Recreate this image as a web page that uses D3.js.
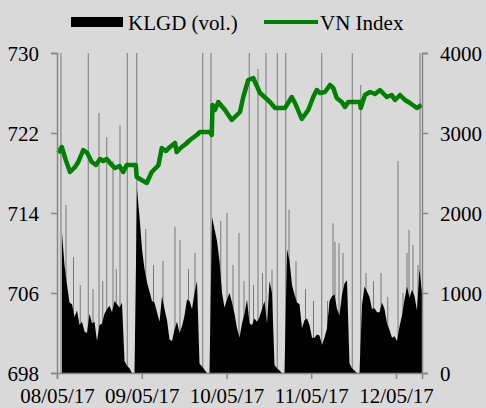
<!DOCTYPE html>
<html lang="en">

<head>
    <meta charset="UTF-8">
    <title>KLGD vs VN Index</title>
    <script src="https://d3js.org/d3.v7.min.js"></script>
    <style>
        body {
            margin: 0;
            background: #d9d9d9;
        }

        svg text {
            font: 21px "Liberation Serif", "Times New Roman", serif;
            fill: #000;
        }
    </style>
</head>

<body>
    <script>
        // x is a session slot index, 30 slots per trading day (25 trading + 5 after close)
        var dayStarts = [0, 30, 60, 90, 120];
        var tickSlots = [-2, 31.9, 65.8, 99.7, 133.6];
        var tickLabels = ["08/05/17", "09/05/17", "10/05/17", "11/05/17", "12/05/17"];
        var volTicks = [0, 1000, 2000, 3000, 4000];
        var idxTicks = [698, 706, 714, 722, 730];

        var volDay1 = [1750, 1350, 1100, 880, 860, 700, 780, 600, 640, 520, 500, 740, 620, 640, 400, 600, 620, 740, 800, 840, 760, 900, 860, 820, 880, 150, 90, 60, 0, 0];
        var volDay2 = [2300, 1950, 1550, 1300, 1130, 1020, 900, 880, 760, 640, 960, 800, 660, 420, 400, 540, 640, 500, 580, 720, 920, 900, 800, 1000, 1150, 120, 80, 40, 0, 0];
        var volDay3 = [1950, 1800, 1650, 1400, 1000, 820, 920, 1000, 880, 740, 560, 440, 620, 740, 920, 620, 600, 680, 640, 700, 800, 900, 620, 1150, 1000, 100, 60, 30, 0, 0];
        var volDay4 = [1550, 1400, 1100, 980, 880, 860, 560, 660, 680, 600, 440, 440, 480, 470, 350, 440, 560, 900, 960, 980, 800, 720, 980, 1120, 1160, 120, 60, 30, 0, 0];
        var volDay5 = [850, 1080, 1020, 950, 800, 810, 760, 760, 880, 800, 620, 540, 440, 460, 400, 580, 720, 920, 1080, 940, 1040, 960, 780, 1300, 1000];

        // single-minute volume spikes [slot, volume]
        var spikes = [[-0.4, 4500], [1.6, 2100], [4.6, 1450], [7.3, 1100], [10.5, 5000], [12.4, 1050], [14.8, 3250],
            [16.3, 1150], [17.9, 2950], [20.4, 2650], [21.7, 1300], [23.2, 3100],
            [26.1, 5000], [29.9, 5000], [33.5, 1800], [36.6, 1350], [40.4, 1400], [45.2, 1830], [47.2, 1660],
            [50.6, 1300], [53.2, 1500], [56.3, 5000], [59.6, 5000], [63.5, 1900],
            [66, 2000], [68.4, 1350], [70.8, 1750], [72.8, 1150], [74.9, 5000], [76.6, 1100], [78.4, 3800],
            [80.2, 1250], [81.6, 5000], [84, 1290], [86.1, 5000], [89.5, 5000], [90.8, 2040], [93.6, 1400],
            [97.4, 1050], [100.6, 900], [103.9, 5000], [106.2, 900], [108.4, 1870], [109.2, 1640],
            [110.8, 1620], [112.4, 1500], [116.1, 5000], [119.5, 3600], [121.6, 1250], [124.6, 1150],
            [127.6, 1250], [130.3, 950], [134.4, 2650], [136.4, 1000], [138, 1500], [138.8, 1790],
            [140.4, 1600], [142.4, 1350], [143.2, 5000]];

        var idxSlots = [-1.5, -0.1, 1.5, 3.2, 5.2, 6.5, 8.5, 10.1, 11.9, 13.6, 15.2, 16.5, 17.9, 19.9, 21.2, 23.0, 24.5, 25.9, 29.5,
            29.9, 31.8, 33.9, 35.9, 37.9, 38.6, 39.9, 41.5, 43.2, 45.2, 45.9, 47.9, 49.5, 51.2, 53.9, 55.2, 59.2,
            59.9, 60.2, 61.2, 62.5, 65.2, 67.9, 71.2, 72.5, 74.5, 76.5, 79.2, 81.0, 83.2, 85.2, 89.2,
            91.9, 93.2, 95.9, 98.5, 100.5, 101.9, 103.2, 105.2, 107.2, 108.5, 109.9, 111.9, 113.2, 114.5, 119.2,
            119.5, 121.2, 123.2, 125.2, 127.2, 129.9, 131.9, 133.2, 135.2, 137.2, 139.2, 141.9, 143.9];
        var idxValues = [720.0, 720.6, 719.3, 718.1, 718.6, 719.1, 720.3, 720.0, 719.1, 718.8, 719.4, 719.2, 719.4, 718.8, 718.5, 718.7, 718.1, 718.8, 718.8,
            717.6, 717.3, 717.0, 718.1, 718.6, 718.8, 720.5, 720.2, 720.6, 721.0, 720.1, 720.6, 720.9, 721.3, 721.8, 722.1, 722.1,
            721.8, 724.8, 724.3, 725.1, 724.3, 723.3, 724.1, 725.6, 727.3, 727.5, 726.0, 725.6, 725.1, 724.5, 724.5,
            725.6, 725.0, 723.4, 724.3, 725.6, 726.3, 726.0, 726.1, 726.8, 726.5, 725.5, 725.1, 724.6, 725.1, 725.1,
            724.5, 725.8, 726.1, 725.9, 726.3, 725.6, 725.8, 725.3, 725.8, 725.3, 725.0, 724.5, 724.8];

        var width = 486, height = 408;
        var plotL = 57, plotR = 422, plotT = 53, plotB = 373;

        var volume = [];
        [volDay1, volDay2, volDay3, volDay4, volDay5].forEach(function (arr, d) {
            arr.forEach(function (v, i) {
                volume.push({ slot: dayStarts[d] + i, v: v });
            });
        });
        var index = idxSlots.map(function (s, i) { return { slot: s, v: idxValues[i] }; });

        var x = d3.scaleLinear().domain([-2, 144]).range([plotL, plotR]);
        var yIdx = d3.scaleLinear().domain([698, 730]).range([plotB, plotT]);
        var yVol = d3.scaleLinear().domain([0, 4000]).range([plotB, plotT]);

        var svg = d3.select("body").append("svg")
            .attr("width", width)
            .attr("height", height);

        svg.append("clipPath").attr("id", "plot")
            .append("rect")
            .attr("x", plotL).attr("y", plotT)
            .attr("width", plotR - plotL).attr("height", plotB - plotT);

        var plot = svg.append("g").attr("clip-path", "url(#plot)");

        plot.append("path")
            .datum(volume)
            .attr("fill", "#000")
            .attr("d", d3.area()
                .x(function (d) { return x(d.slot); })
                .y0(plotB)
                .y1(function (d) { return yVol(d.v); }));

        plot.selectAll("line.spike")
            .data(spikes)
            .enter()
            .append("line")
            .attr("class", "spike")
            .attr("x1", function (d) { return x(d[0]); })
            .attr("x2", function (d) { return x(d[0]); })
            .attr("y1", plotB)
            .attr("y2", function (d) { return yVol(d[1]); })
            .attr("stroke", "#000")
            .attr("stroke-opacity", 0.45)
            .attr("stroke-width", 1);

        svg.append("path")
            .datum(index)
            .attr("fill", "none")
            .attr("stroke", "#008000")
            .attr("stroke-width", 4.5)
            .attr("stroke-linejoin", "round")
            .attr("d", d3.line()
                .x(function (d) { return x(d.slot); })
                .y(function (d) { return yIdx(d.v); }));

        // axes
        var axisColor = "#878787";
        var leftAxis = svg.append("g")
            .attr("transform", "translate(" + plotL + ",0)")
            .call(d3.axisLeft(yIdx).tickValues(idxTicks).tickSize(6).tickPadding(12));
        var rightAxis = svg.append("g")
            .attr("transform", "translate(" + plotR + ",0)")
            .call(d3.axisRight(yVol).tickValues(volTicks).tickSize(6).tickPadding(12)
                .tickFormat(d3.format("d")));
        var bottomAxis = svg.append("g")
            .attr("transform", "translate(0," + plotB + ")")
            .call(d3.axisBottom(x).tickValues(tickSlots).tickSize(6).tickPadding(9)
                .tickFormat(function (d, i) { return tickLabels[i]; }));

        [leftAxis, rightAxis, bottomAxis].forEach(function (g) {
            g.select(".domain").attr("stroke", axisColor).attr("stroke-width", 1.5);
            g.selectAll(".tick line").attr("stroke", axisColor).attr("stroke-width", 1.5);
            g.selectAll("text").attr("font-size", null).attr("font-family", null).attr("fill", "#000");
        });
        leftAxis.selectAll("text").attr("dy", "0.34em");
        rightAxis.selectAll("text").attr("dy", "0.34em");

        // legend
        var legend = svg.append("g");
        legend.append("rect")
            .attr("x", 71).attr("y", 17)
            .attr("width", 52).attr("height", 10)
            .attr("fill", "#000");
        legend.append("text").attr("x", 128).attr("y", 30).text("KLGD (vol.)");
        legend.append("line")
            .attr("x1", 264).attr("x2", 318)
            .attr("y1", 22).attr("y2", 22)
            .attr("stroke", "#008000").attr("stroke-width", 4);
        legend.append("text").attr("x", 320).attr("y", 30).text("VN Index");
    </script>
</body>

</html>
